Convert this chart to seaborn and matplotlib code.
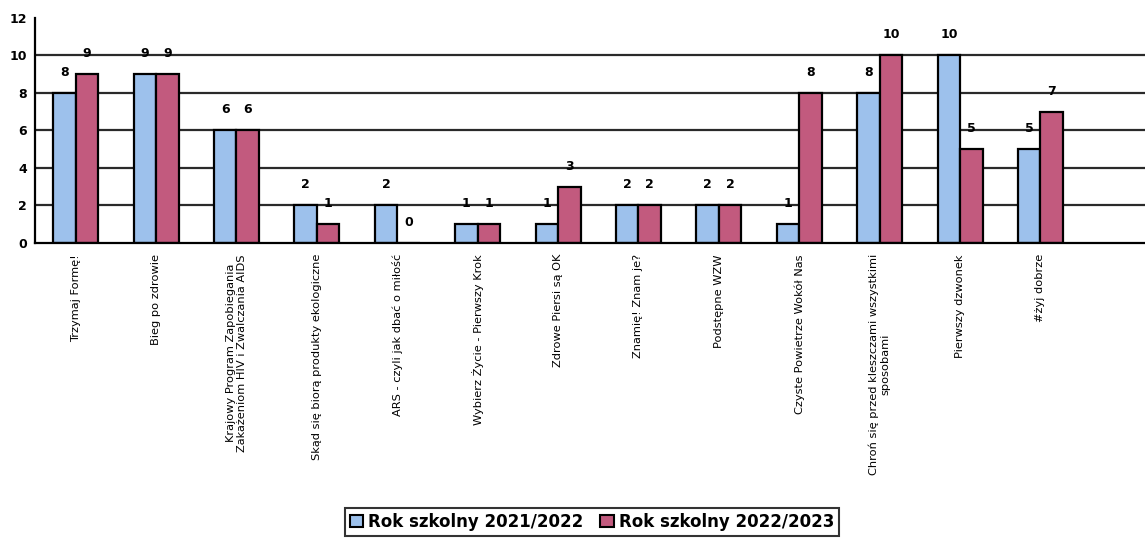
import matplotlib
matplotlib.use("Agg")
import matplotlib.pyplot as plt
import seaborn as sns
import pandas as pd
import numpy as np
from matplotlib.patches import Patch

categories = [
    "Trzymaj Formę!",
    "Bieg po zdrowie",
    "Krajowy Program Zapobiegania\nZakażeniom HIV i Zwalczania AIDS",
    "Skąd się biorą produkty ekologiczne",
    "ARS - czyli jak dbać o miłość",
    "Wybierz Życie - Pierwszy Krok",
    "Zdrowe Piersi są OK",
    "Znamię! Znam je?",
    "Podstępne WZW",
    "Czyste Powietrze Wokół Nas",
    "Chroń się przed kleszczami wszystkimi\nsposobami",
    "Pierwszy dzwonek",
    "#żyj dobrze",
]
series_names = ["Rok szkolny 2021/2022", "Rok szkolny 2022/2023"]
values_2122 = [8, 9, 6, 2, 2, 1, 1, 2, 2, 1, 8, 10, 5]
values_2223 = [9, 9, 6, 1, 0, 1, 3, 2, 2, 8, 10, 5, 7]
colors = ["#9DC1EC", "#C25A7E"]

df = pd.DataFrame({
    "cat": categories * 2,
    "val": values_2122 + values_2223,
    "series": [series_names[0]] * len(categories) + [series_names[1]] * len(categories),
})

sns.set_style("white")
plt.rcParams["font.family"] = ["DejaVu Sans"]
plt.rcParams["text.color"] = "black"
plt.rcParams["xtick.color"] = "black"
plt.rcParams["ytick.color"] = "black"
plt.rcParams["axes.labelcolor"] = "black"

fig = plt.figure(figsize=(11.45, 5.4), dpi=100)
ax = fig.add_axes([0.031, 0.55, 0.969, 0.417])

sns.barplot(data=df, x="cat", y="val", hue="series", order=categories,
            hue_order=series_names, palette=colors, width=0.56, ax=ax,
            edgecolor="black", linewidth=1.6, saturation=1, legend=False)

# data labels
n = len(categories)
for i, (a, b) in enumerate(zip(values_2122, values_2223)):
    ax.text(i - 0.14, a + 0.75, str(a), ha="center", va="bottom",
            fontsize=9, fontweight="bold", color="black")
    ax.text(i + 0.14, b + 0.75, str(b), ha="center", va="bottom",
            fontsize=9, fontweight="bold", color="black")

ax.set_xlim(-0.5, 13.3)
ax.set_ylim(0, 12)
ax.set_yticks(range(0, 13, 2))
ax.set_yticklabels([str(v) for v in range(0, 13, 2)], fontsize=9, fontweight="bold")
for y in range(2, 11, 2):
    ax.axhline(y, color="#2a2a2a", linewidth=1.6, zorder=0)

ax.set_xticks(range(n))
ax.set_xticklabels(categories, rotation=90, fontsize=8.2, va="top", ha="center",
                   multialignment="center", color="black")
ax.tick_params(axis="x", which="major", length=0, pad=8)
ax.set_xticks(np.arange(-0.5, n + 0.5, 1), minor=True)
ax.tick_params(axis="x", which="minor", length=4, width=1.5, direction="out", color="black")
ax.tick_params(axis="y", length=4, width=1.5, direction="out", color="black", pad=2)

ax.set_xlabel("")
ax.set_ylabel("")
for s in ["top", "right"]:
    ax.spines[s].set_visible(False)
for s in ["left", "bottom"]:
    ax.spines[s].set_color("black")
    ax.spines[s].set_linewidth(1.6)

handles = [Patch(facecolor=c, edgecolor="black", linewidth=1.5) for c in colors]
leg = fig.legend(handles, series_names, loc="upper center",
                 bbox_to_anchor=(0.517, 0.075), bbox_transform=fig.transFigure,
                 ncol=2, frameon=True, fancybox=False, handlelength=0.8,
                 handleheight=0.8, handletextpad=0.3, columnspacing=1.0,
                 prop={"size": 12, "weight": "bold"}, borderpad=0.3)
leg.get_frame().set_edgecolor("black")
leg.get_frame().set_linewidth(1.5)

fig.savefig("out.png", dpi=100)
